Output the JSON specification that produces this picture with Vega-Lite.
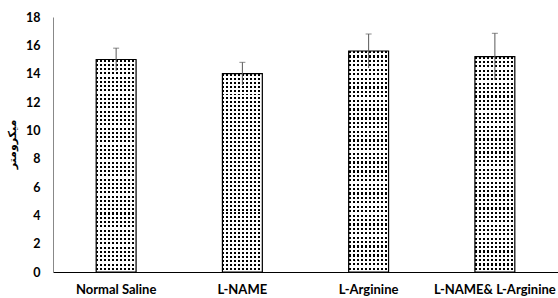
{
  "$schema": "https://vega.github.io/schema/vega-lite/v6.json",
  "width": 505,
  "height": 255,
  "autosize": "none",
  "padding": {"left": 53, "top": 17, "right": 0, "bottom": 26},
  "background": "white",
  "config": {"view": {"stroke": null}, "font": "Lato", "axisY": {"labelOverlap": false}},
  "data": {"values": [
    {"group": "Normal Saline", "value": 15.0, "lo": 14.2, "hi": 15.8},
    {"group": "L-NAME", "value": 14.0, "lo": 13.2, "hi": 14.8},
    {"group": "L-Arginine", "value": 15.6, "lo": 14.4, "hi": 16.8},
    {"group": "L-NAME& L-Arginine", "value": 15.2, "lo": 13.55, "hi": 16.85}
  ]},
  "encoding": {
    "x": {
      "field": "group", "type": "nominal", "sort": null, "title": null,
      "scale": {"paddingInner": 0.684, "paddingOuter": 0.342},
      "axis": {"labelAngle": 0, "ticks": false, "domainColor": "black", "domainWidth": 1.2, "labelFontWeight": "bold", "labelFontSize": 13, "labelColor": "black", "labelBaseline": "alphabetic", "labelPadding": 21, "labelFont": "Lato"}
    },
    "y": {
      "field": "value", "type": "quantitative",
      "scale": {"domain": [0, 18], "nice": false},
      "title": "میکرومتر",
      "axis": {"values": [0, 2, 4, 6, 8, 10, 12, 14, 16, 18], "labelOverlap": false, "grid": false, "ticks": false, "domainColor": "#888888", "labelFontWeight": "bold", "labelFontSize": 12.5, "labelColor": "black", "labelPadding": 13, "labelFont": "Lato", "titleFont": "DejaVu Sans", "titleFontSize": 11, "titleFontWeight": "bold", "titleColor": "black", "titleAngle": -90, "titleX": -41, "titleY": 127, "titleAlign": "center", "titleBaseline": "middle"}
    }
  },
  "layer": [
    {
      "mark": {"type": "bar", "fill": "black"}
    },
    {
      "mark": {"type": "bar", "fill": {"gradient": "linear", "x1": 0, "y1": 0, "x2": 0, "y2": 1, "stops": [
        {"offset": 0, "color": "transparent"}, {"offset": 0.01, "color": "transparent"}, {"offset": 0.01, "color": "white"}, {"offset": 0.02, "color": "white"},
        {"offset": 0.02, "color": "transparent"}, {"offset": 0.03, "color": "transparent"}, {"offset": 0.03, "color": "white"}, {"offset": 0.04, "color": "white"},
        {"offset": 0.04, "color": "transparent"}, {"offset": 0.05, "color": "transparent"}, {"offset": 0.05, "color": "white"}, {"offset": 0.06, "color": "white"},
        {"offset": 0.06, "color": "transparent"}, {"offset": 0.07, "color": "transparent"}, {"offset": 0.07, "color": "white"}, {"offset": 0.08, "color": "white"},
        {"offset": 0.08, "color": "transparent"}, {"offset": 0.09, "color": "transparent"}, {"offset": 0.09, "color": "white"}, {"offset": 0.1, "color": "white"},
        {"offset": 0.1, "color": "transparent"}, {"offset": 0.11, "color": "transparent"}, {"offset": 0.11, "color": "white"}, {"offset": 0.12, "color": "white"},
        {"offset": 0.12, "color": "transparent"}, {"offset": 0.13, "color": "transparent"}, {"offset": 0.13, "color": "white"}, {"offset": 0.14, "color": "white"},
        {"offset": 0.14, "color": "transparent"}, {"offset": 0.15, "color": "transparent"}, {"offset": 0.15, "color": "white"}, {"offset": 0.16, "color": "white"},
        {"offset": 0.16, "color": "transparent"}, {"offset": 0.17, "color": "transparent"}, {"offset": 0.17, "color": "white"}, {"offset": 0.18, "color": "white"},
        {"offset": 0.18, "color": "transparent"}, {"offset": 0.19, "color": "transparent"}, {"offset": 0.19, "color": "white"}, {"offset": 0.2, "color": "white"},
        {"offset": 0.2, "color": "transparent"}, {"offset": 0.21, "color": "transparent"}, {"offset": 0.21, "color": "white"}, {"offset": 0.22, "color": "white"},
        {"offset": 0.22, "color": "transparent"}, {"offset": 0.23, "color": "transparent"}, {"offset": 0.23, "color": "white"}, {"offset": 0.24, "color": "white"},
        {"offset": 0.24, "color": "transparent"}, {"offset": 0.25, "color": "transparent"}, {"offset": 0.25, "color": "white"}, {"offset": 0.26, "color": "white"},
        {"offset": 0.26, "color": "transparent"}, {"offset": 0.27, "color": "transparent"}, {"offset": 0.27, "color": "white"}, {"offset": 0.28, "color": "white"},
        {"offset": 0.28, "color": "transparent"}, {"offset": 0.29, "color": "transparent"}, {"offset": 0.29, "color": "white"}, {"offset": 0.3, "color": "white"},
        {"offset": 0.3, "color": "transparent"}, {"offset": 0.31, "color": "transparent"}, {"offset": 0.31, "color": "white"}, {"offset": 0.32, "color": "white"},
        {"offset": 0.32, "color": "transparent"}, {"offset": 0.33, "color": "transparent"}, {"offset": 0.33, "color": "white"}, {"offset": 0.34, "color": "white"},
        {"offset": 0.34, "color": "transparent"}, {"offset": 0.35, "color": "transparent"}, {"offset": 0.35, "color": "white"}, {"offset": 0.36, "color": "white"},
        {"offset": 0.36, "color": "transparent"}, {"offset": 0.37, "color": "transparent"}, {"offset": 0.37, "color": "white"}, {"offset": 0.38, "color": "white"},
        {"offset": 0.38, "color": "transparent"}, {"offset": 0.39, "color": "transparent"}, {"offset": 0.39, "color": "white"}, {"offset": 0.4, "color": "white"},
        {"offset": 0.4, "color": "transparent"}, {"offset": 0.41, "color": "transparent"}, {"offset": 0.41, "color": "white"}, {"offset": 0.42, "color": "white"},
        {"offset": 0.42, "color": "transparent"}, {"offset": 0.43, "color": "transparent"}, {"offset": 0.43, "color": "white"}, {"offset": 0.44, "color": "white"},
        {"offset": 0.44, "color": "transparent"}, {"offset": 0.45, "color": "transparent"}, {"offset": 0.45, "color": "white"}, {"offset": 0.46, "color": "white"},
        {"offset": 0.46, "color": "transparent"}, {"offset": 0.47, "color": "transparent"}, {"offset": 0.47, "color": "white"}, {"offset": 0.48, "color": "white"},
        {"offset": 0.48, "color": "transparent"}, {"offset": 0.49, "color": "transparent"}, {"offset": 0.49, "color": "white"}, {"offset": 0.5, "color": "white"},
        {"offset": 0.5, "color": "transparent"}, {"offset": 0.51, "color": "transparent"}, {"offset": 0.51, "color": "white"}, {"offset": 0.52, "color": "white"},
        {"offset": 0.52, "color": "transparent"}, {"offset": 0.53, "color": "transparent"}, {"offset": 0.53, "color": "white"}, {"offset": 0.54, "color": "white"},
        {"offset": 0.54, "color": "transparent"}, {"offset": 0.55, "color": "transparent"}, {"offset": 0.55, "color": "white"}, {"offset": 0.56, "color": "white"},
        {"offset": 0.56, "color": "transparent"}, {"offset": 0.57, "color": "transparent"}, {"offset": 0.57, "color": "white"}, {"offset": 0.58, "color": "white"},
        {"offset": 0.58, "color": "transparent"}, {"offset": 0.59, "color": "transparent"}, {"offset": 0.59, "color": "white"}, {"offset": 0.6, "color": "white"},
        {"offset": 0.6, "color": "transparent"}, {"offset": 0.61, "color": "transparent"}, {"offset": 0.61, "color": "white"}, {"offset": 0.62, "color": "white"},
        {"offset": 0.62, "color": "transparent"}, {"offset": 0.63, "color": "transparent"}, {"offset": 0.63, "color": "white"}, {"offset": 0.64, "color": "white"},
        {"offset": 0.64, "color": "transparent"}, {"offset": 0.65, "color": "transparent"}, {"offset": 0.65, "color": "white"}, {"offset": 0.66, "color": "white"},
        {"offset": 0.66, "color": "transparent"}, {"offset": 0.67, "color": "transparent"}, {"offset": 0.67, "color": "white"}, {"offset": 0.68, "color": "white"},
        {"offset": 0.68, "color": "transparent"}, {"offset": 0.69, "color": "transparent"}, {"offset": 0.69, "color": "white"}, {"offset": 0.7, "color": "white"},
        {"offset": 0.7, "color": "transparent"}, {"offset": 0.71, "color": "transparent"}, {"offset": 0.71, "color": "white"}, {"offset": 0.72, "color": "white"},
        {"offset": 0.72, "color": "transparent"}, {"offset": 0.73, "color": "transparent"}, {"offset": 0.73, "color": "white"}, {"offset": 0.74, "color": "white"},
        {"offset": 0.74, "color": "transparent"}, {"offset": 0.75, "color": "transparent"}, {"offset": 0.75, "color": "white"}, {"offset": 0.76, "color": "white"},
        {"offset": 0.76, "color": "transparent"}, {"offset": 0.77, "color": "transparent"}, {"offset": 0.77, "color": "white"}, {"offset": 0.78, "color": "white"},
        {"offset": 0.78, "color": "transparent"}, {"offset": 0.79, "color": "transparent"}, {"offset": 0.79, "color": "white"}, {"offset": 0.8, "color": "white"},
        {"offset": 0.8, "color": "transparent"}, {"offset": 0.81, "color": "transparent"}, {"offset": 0.81, "color": "white"}, {"offset": 0.82, "color": "white"},
        {"offset": 0.82, "color": "transparent"}, {"offset": 0.83, "color": "transparent"}, {"offset": 0.83, "color": "white"}, {"offset": 0.84, "color": "white"},
        {"offset": 0.84, "color": "transparent"}, {"offset": 0.85, "color": "transparent"}, {"offset": 0.85, "color": "white"}, {"offset": 0.86, "color": "white"},
        {"offset": 0.86, "color": "transparent"}, {"offset": 0.87, "color": "transparent"}, {"offset": 0.87, "color": "white"}, {"offset": 0.88, "color": "white"},
        {"offset": 0.88, "color": "transparent"}, {"offset": 0.89, "color": "transparent"}, {"offset": 0.89, "color": "white"}, {"offset": 0.9, "color": "white"},
        {"offset": 0.9, "color": "transparent"}, {"offset": 0.91, "color": "transparent"}, {"offset": 0.91, "color": "white"}, {"offset": 0.92, "color": "white"},
        {"offset": 0.92, "color": "transparent"}, {"offset": 0.93, "color": "transparent"}, {"offset": 0.93, "color": "white"}, {"offset": 0.94, "color": "white"},
        {"offset": 0.94, "color": "transparent"}, {"offset": 0.95, "color": "transparent"}, {"offset": 0.95, "color": "white"}, {"offset": 0.96, "color": "white"},
        {"offset": 0.96, "color": "transparent"}, {"offset": 0.97, "color": "transparent"}, {"offset": 0.97, "color": "white"}, {"offset": 0.98, "color": "white"},
        {"offset": 0.98, "color": "transparent"}, {"offset": 0.99, "color": "transparent"}, {"offset": 0.99, "color": "white"}, {"offset": 1, "color": "white"}
      ]}}
    },
    {
      "mark": {"type": "bar", "stroke": "black", "strokeWidth": 1.2, "fill": {"gradient": "linear", "x1": 0, "y1": 0, "x2": 1, "y2": 0, "stops": [
        {"offset": 0, "color": "transparent"}, {"offset": 0.05, "color": "transparent"}, {"offset": 0.05, "color": "white"}, {"offset": 0.1, "color": "white"},
        {"offset": 0.1, "color": "transparent"}, {"offset": 0.15, "color": "transparent"}, {"offset": 0.15, "color": "white"}, {"offset": 0.2, "color": "white"},
        {"offset": 0.2, "color": "transparent"}, {"offset": 0.25, "color": "transparent"}, {"offset": 0.25, "color": "white"}, {"offset": 0.3, "color": "white"},
        {"offset": 0.3, "color": "transparent"}, {"offset": 0.35, "color": "transparent"}, {"offset": 0.35, "color": "white"}, {"offset": 0.4, "color": "white"},
        {"offset": 0.4, "color": "transparent"}, {"offset": 0.45, "color": "transparent"}, {"offset": 0.45, "color": "white"}, {"offset": 0.5, "color": "white"},
        {"offset": 0.5, "color": "transparent"}, {"offset": 0.55, "color": "transparent"}, {"offset": 0.55, "color": "white"}, {"offset": 0.6, "color": "white"},
        {"offset": 0.6, "color": "transparent"}, {"offset": 0.65, "color": "transparent"}, {"offset": 0.65, "color": "white"}, {"offset": 0.7, "color": "white"},
        {"offset": 0.7, "color": "transparent"}, {"offset": 0.75, "color": "transparent"}, {"offset": 0.75, "color": "white"}, {"offset": 0.8, "color": "white"},
        {"offset": 0.8, "color": "transparent"}, {"offset": 0.85, "color": "transparent"}, {"offset": 0.85, "color": "white"}, {"offset": 0.9, "color": "white"},
        {"offset": 0.9, "color": "transparent"}, {"offset": 0.95, "color": "transparent"}, {"offset": 0.95, "color": "white"}, {"offset": 1, "color": "white"}
      ]}}
    },
    {
      "mark": {"type": "rule", "color": "#595959", "strokeWidth": 1},
      "encoding": {"y": {"field": "lo", "type": "quantitative"}, "y2": {"field": "hi"}}
    },
    {
      "mark": {"type": "tick", "color": "#595959", "size": 6, "thickness": 1},
      "encoding": {"y": {"field": "hi", "type": "quantitative"}}
    }
  ]
}
